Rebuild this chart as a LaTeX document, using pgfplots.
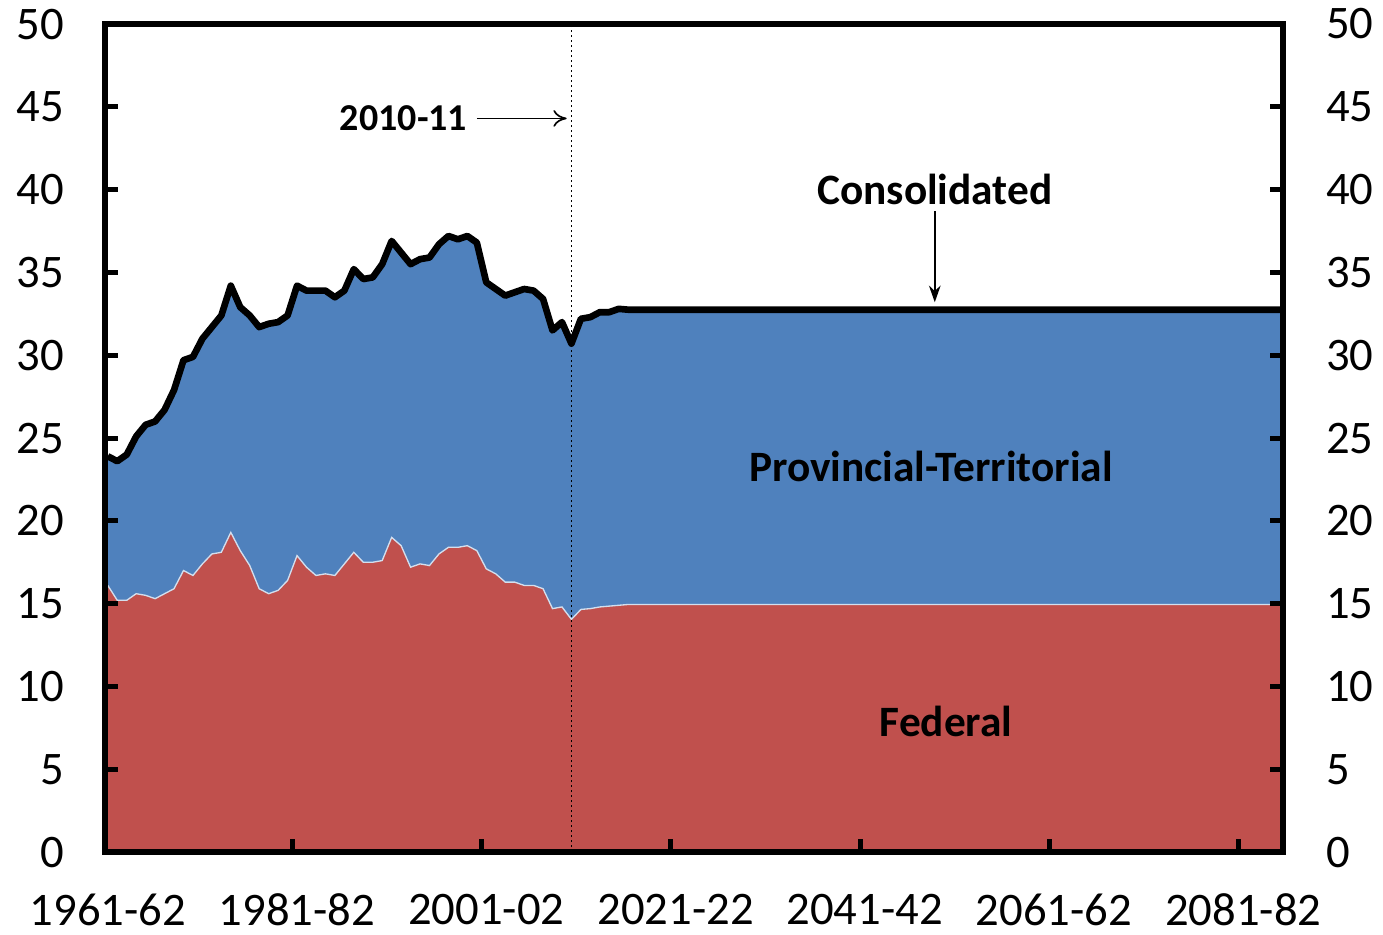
\documentclass[border=0pt]{standalone}
\usepackage{fontspec}
\setmainfont{Carlito}
\usepackage{pgfplots}
\usepackage{pgfplotstable}
\pgfplotsset{compat=1.18}
\usetikzlibrary{arrows.meta}

\definecolor{fedred}{HTML}{C0504D}
\definecolor{ptblue}{HTML}{4F81BD}

% idx = years since 1961-62; fed and cons in % of GDP
\pgfplotstableread{
idx fed cons
0 16.1 23.9
1 15.2 23.6
2 15.2 24.0
3 15.6 25.1
4 15.5 25.8
5 15.3 26.0
6 15.6 26.7
7 15.9 27.9
8 17.0 29.7
9 16.7 29.9
10 17.4 31.0
11 18.0 31.7
12 18.1 32.4
13 19.3 34.2
14 18.2 32.9
15 17.3 32.4
16 15.9 31.7
17 15.6 31.9
18 15.8 32.0
19 16.4 32.4
20 17.9 34.2
21 17.2 33.9
22 16.7 33.9
23 16.8 33.9
24 16.7 33.5
25 17.4 33.9
26 18.1 35.2
27 17.5 34.6
28 17.5 34.7
29 17.6 35.5
30 19.0 36.9
31 18.5 36.2
32 17.2 35.5
33 17.4 35.8
34 17.3 35.9
35 18.0 36.7
36 18.4 37.2
37 18.4 37.0
38 18.5 37.2
39 18.2 36.8
40 17.1 34.4
41 16.8 34.0
42 16.3 33.6
43 16.3 33.8
44 16.1 34.0
45 16.1 33.9
46 15.9 33.4
47 14.7 31.5
48 14.8 32.0
49 14.05 30.7
50 14.65 32.2
51 14.7 32.3
52 14.8 32.6
53 14.85 32.6
54 14.9 32.8
55 14.95 32.75
124 14.95 32.75
}\fiscal

\begin{document}
\begin{tikzpicture}
\pgfplotsset{
  common/.style={
    scale only axis,
    width=353.4pt, height=248.4pt,
    xmin=-0.3, xmax=124.2,
    ymin=0, ymax=50,
    ytick={0,5,...,50},
    tick align=inside,
    major tick length=4pt,
    every tick/.style={black, line width=1.5pt},
    axis line style={line width=1.8pt},
    ticklabel style={font=\fontsize{14}{16.8}\selectfont},
    /pgf/number format/assume math mode=true,
  }
}
\begin{axis}[
    common,
    axis on top,
    xtick={0,20,...,120},
    xticklabels={1961-62,1981-82,2001-02,2021-22,2041-42,2061-62,2081-82},
    xtick style={draw=none},
    xticklabel style={yshift=-9pt},
    ytick pos=left,
    yticklabel style={xshift=-8.8pt},
]
  \addplot[fill=ptblue, draw=none] table[x=idx, y=cons] {\fiscal} \closedcycle;
  \addplot[fill=fedred, draw=none] table[x=idx, y=fed] {\fiscal} \closedcycle;
  \addplot[line width=0.4pt, color=white!75!ptblue] table[x=idx, y=fed] {\fiscal};
  \addplot[line width=2pt, black, line join=round] table[x=idx, y=cons] {\fiscal};

  \draw[black, line width=0.5pt, densely dotted] (axis cs:49,0) -- (axis cs:49,50);

  \node[anchor=east, inner sep=0pt, font=\fontsize{11.4}{13}\selectfont\bfseries] at (axis cs:38.05,44.3) {2010-11};
  \draw[-{To[length=4pt,width=5pt]}, line width=0.5pt] (axis cs:39.0,44.3) -- (axis cs:48.5,44.3);

  \node[font=\fontsize{13}{15}\selectfont\bfseries] at (axis cs:87.4,40.0) {Consolidated};
  \draw[-{Stealth[length=5pt,width=3.5pt]}, line width=0.5pt] (axis cs:87.4,38.7) -- (axis cs:87.4,33.2);

  \node[font=\fontsize{13}{15}\selectfont\bfseries] at (axis cs:87.0,23.3) {Provincial-Territorial};
  \node[font=\fontsize{13}{15}\selectfont\bfseries] at (axis cs:88.6,7.9) {Federal};

  \coordinate (bbl) at (rel axis cs:-0.0891,-0.1000);
  \coordinate (btr) at (rel axis cs:1.0849,1.0290);
\end{axis}
\begin{axis}[
    common,
    xtick={19.5,39.5,59.5,79.5,99.5,119.5},
    xticklabels={},
    xtick pos=bottom,
    ytick pos=right,
    yticklabel pos=right,
    yticklabel style={xshift=9.4pt},
]
\end{axis}
\pgfresetboundingbox
\path (bbl) rectangle (btr);
\end{tikzpicture}
\end{document}
